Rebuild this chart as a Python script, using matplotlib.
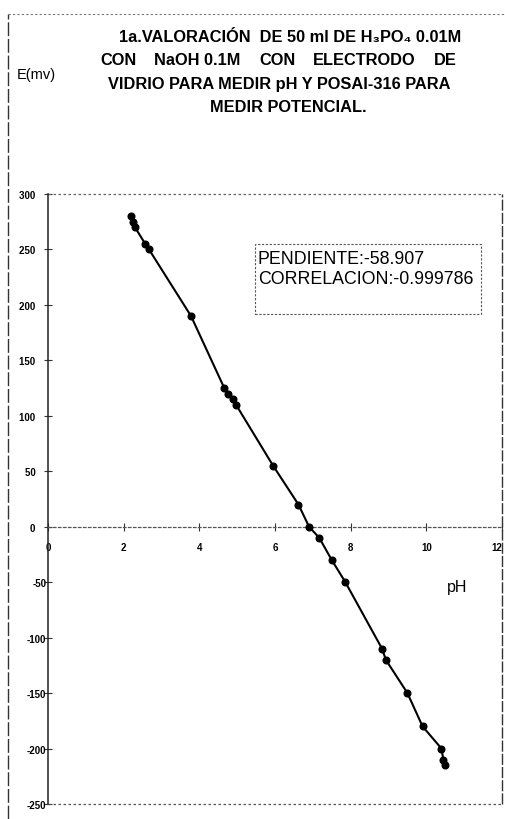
import matplotlib
matplotlib.use("Agg")
import matplotlib.pyplot as plt
from matplotlib.lines import Line2D
from matplotlib.patches import Rectangle

# ---- data ----
ph = [2.20, 2.25, 2.30, 2.57, 2.67, 3.78, 4.66, 4.77, 4.88, 4.97,
      5.95, 6.62, 6.90, 7.17, 7.50, 7.86, 8.83, 8.93, 9.50, 9.90,
      10.40, 10.45, 10.50]
emv = [280, 275, 270, 255, 250, 190, 125, 120, 115, 110,
       55, 20, 0, -10, -30, -50, -110, -120, -150, -180,
       -200, -210, -215]

xticks = [0, 2, 4, 6, 8, 10, 12]
xtick_labels = ["0", "2", "4", "6", "8", "10", "12"]
yticks = [300, 250, 200, 150, 100, 50, 0, -50, -100, -150, -200, -250]
ytick_labels = ["300", "250", "200", "150", "100", "50", "0",
                "-50", "-100", "-150", "-200", "-250"]

title_lines = ["1a.VALORACIÓN  DE 50 ml DE H\u2083PO\u2084 0.01M",
               ["CON", "NaOH 0.1M", "CON", "ELECTRODO", "DE"],
               "VIDRIO PARA MEDIR pH Y POSAI-316 PARA",
               "MEDIR POTENCIAL."]
box_lines = ["PENDIENTE:-58.907", "CORRELACION:-0.999786"]
ylabel = "E(mv)"
xlabel = "pH"

FAM = ["Liberation Sans", "DejaVu Sans"]
plt.rcParams["font.family"] = FAM

W, H = 505, 820
fig = plt.figure(figsize=(W / 100, H / 100), dpi=100)

# axes placement (pixels)
L, R, T, B = 48, 502, 195, 805
ax = fig.add_axes([L / W, 1 - B / H, (R - L) / W, (B - T) / H])
ax.set_xlim(0, 12)
ax.set_ylim(-250, 300)

ax.plot(ph, emv, color="black", lw=1.5, marker="o", ms=4.8,
        mfc="black", mec="black", zorder=5)

# spines
for s in ["top", "right"]:
    ax.spines[s].set_visible(False)
ax.spines["bottom"].set_position(("data", 0))
ax.spines["bottom"].set_linestyle((0, (2, 2)))
ax.spines["bottom"].set_color("#555555")
ax.spines["bottom"].set_linewidth(0.9)
ax.spines["left"].set_color("#222222")
ax.spines["left"].set_linewidth(1.1)

# plot-area frame (top, right, bottom)
ax.add_line(Line2D([0, 1], [1, 1], transform=ax.transAxes, color="#666666",
                   lw=0.9, ls=(0, (2, 2)), clip_on=False))
ax.add_line(Line2D([1, 1], [0, 1], transform=ax.transAxes, color="#333333",
                   lw=1.0, ls=(0, (8, 1.5)), clip_on=False))
ax.add_line(Line2D([0, 1], [0, 0], transform=ax.transAxes, color="#555555",
                   lw=0.9, ls=(0, (2, 2)), clip_on=False))

ax.set_xticks(xticks)
ax.set_xticklabels(xtick_labels, fontsize=7, fontweight="bold")
# last label sits at the figure edge: keep it fully inside
ax.get_xticklabels()[-1].set_horizontalalignment("right")
ax.set_yticks(yticks)
ylabs = [t if t.startswith("-") else t + "\u2007\u2007" for t in ytick_labels]
ax.set_yticklabels(ylabs, fontsize=7, fontweight="bold")
ax.tick_params(axis="x", direction="inout", length=6, width=0.8, pad=8,
               color="#333333")
ax.tick_params(axis="y", direction="inout", length=6, width=0.8, pad=-1.8,
               color="#333333")

# info box
ax.add_patch(Rectangle((0.456, 0.803), 0.498, 0.115, transform=ax.transAxes,
                       fill=False, ec="#555555", lw=0.8, ls=(0, (2, 1.5)),
                       zorder=4))
ax.text(0.4625, 0.895, box_lines[0], transform=ax.transAxes, fontsize=12.8,
        ha="left", va="center")
ax.text(0.4625, 0.862, box_lines[1], transform=ax.transAxes, fontsize=12.8,
        ha="left", va="center")

# axis labels
ax.text(0.879, 0.357, xlabel, transform=ax.transAxes, fontsize=11.5,
        ha="left", va="center")
fig.text(17 / W, 1 - 75 / H, ylabel, fontsize=10.5, ha="left", va="center")

# outer border
fig.add_artist(Line2D([8 / W, 8 / W], [0, 1 - 15 / H], transform=fig.transFigure,
                      color="#333333", lw=1.0, ls=(0, (10, 2))))
fig.add_artist(Line2D([8 / W, 1], [1 - 15 / H, 1 - 15 / H], transform=fig.transFigure,
                      color="#777777", lw=0.8, ls=(0, (2, 2))))

# title
TS = 11.8
def fy(py):
    return 1 - py / H

fig.text(290 / W, fy(37.5), title_lines[0], fontsize=TS, fontweight="bold",
         ha="center", va="center")
fig.text(279.5 / W, fy(84.5), title_lines[2], fontsize=TS, fontweight="bold",
         ha="center", va="center")
fig.text(288 / W, fy(107.5), title_lines[3], fontsize=TS, fontweight="bold",
         ha="center", va="center")

# justified line 2
renderer = fig.canvas.get_renderer()
words = title_lines[1]
arts = [fig.text(0, fy(60.5), w, fontsize=TS, fontweight="bold",
                 ha="left", va="center") for w in words]
widths = [a.get_window_extent(renderer).width for a in arts]
x0, x1 = 100, 457
gap = (x1 - x0 - sum(widths)) / (len(words) - 1)
x = x0
for a, w in zip(arts, widths):
    a.set_x(x / W)
    x += w + gap

fig.savefig("out.png", dpi=100)
